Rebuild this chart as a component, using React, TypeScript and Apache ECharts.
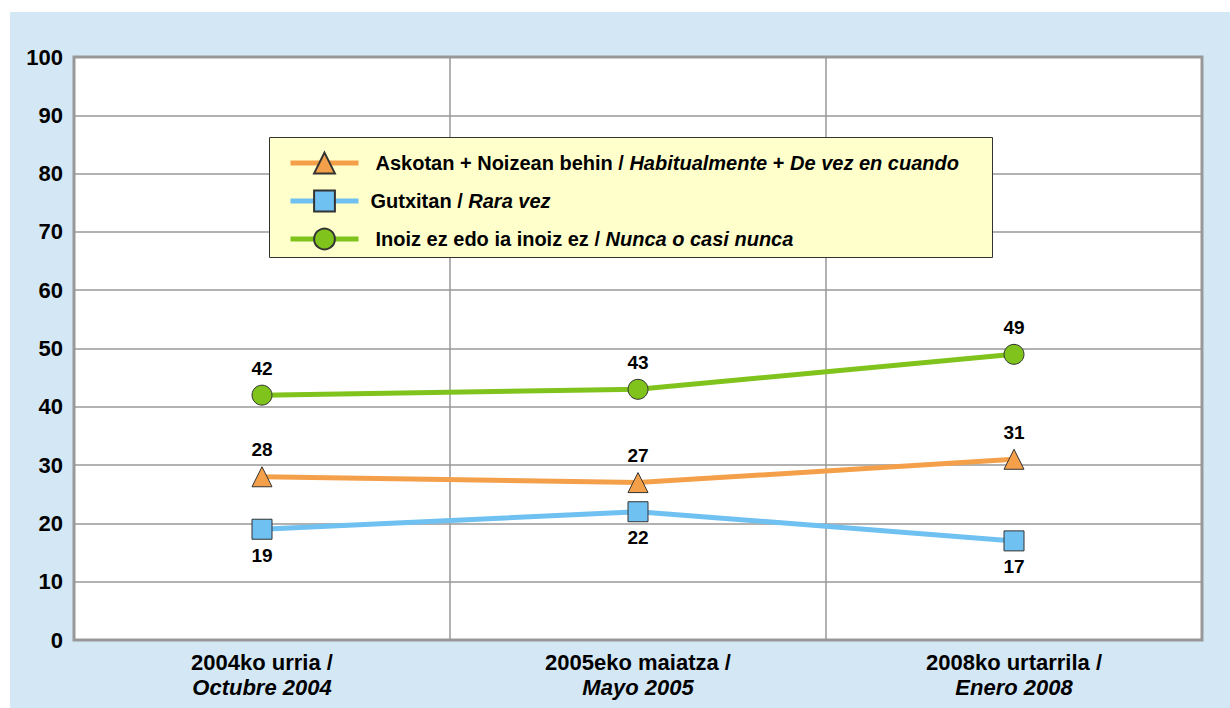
import React, { useEffect, useRef } from "react";
import * as echarts from "echarts";

const catEu = ["2004ko urria /", "2005eko maiatza /", "2008ko urtarrila /"];
const catEs = ["Octubre 2004", "Mayo 2005", "Enero 2008"];

const seriesNames = [
  ["Askotan + Noizean behin / ", "Habitualmente", " + ", "De vez en cuando"],
  ["Gutxitan / ", "Rara vez"],
  ["Inoiz ez edo ia inoiz ez / ", "Nunca o casi nunca"],
];
const nameKeys = ["s1", "s2", "s3"];

const often = [28, 27, 31];
const rarely = [19, 22, 17];
const never = [42, 43, 49];

const yTicks = { min: 0, max: 100, interval: 10 };

const FONT = "'Liberation Sans', Arial, sans-serif";
const LF = 20;

export default function App() {
  const ref = useRef<HTMLDivElement>(null);
  useEffect(() => {
    if (!ref.current) return;
    const chart = echarts.init(ref.current, undefined, { renderer: "svg" });
    const labelStyle = { fontFamily: FONT, fontWeight: "bold", fontSize: 19, color: "#000" };
    const mkSeries = (key: string, data: number[], color: string, symbol: string, pos: string, dist: number) => ({
      name: key,
      type: "line",
      data,
      symbol,
      symbolSize: 20,
      lineStyle: { color, width: 5 },
      itemStyle: { color, borderColor: "#333", borderWidth: 1 },
      label: { show: true, position: pos, distance: dist, ...labelStyle },
      z: 3,
    });
    const fmtName = (n: string) => {
      const idx = nameKeys.indexOf(n);
      const parts = seriesNames[idx];
      const pad = idx === 1 ? "{p2| }" : "{p| }";
      return pad + parts.map((t, i) => `{${i % 2 === 0 ? "a" : "b"}|${t}}`).join("");
    };
    chart.setOption({
      animation: false,
      textStyle: { fontFamily: FONT },
      grid: {
        left: 74,
        top: 57,
        width: 1128,
        height: 583,
        show: true,
        backgroundColor: "#ffffff",
        borderColor: "#999999",
        borderWidth: 3,
        containLabel: false,
      },
      graphic: [
        {
          type: "rect",
          z: 1,
          shape: { x: 269.5, y: 137.5, width: 723, height: 120 },
          style: { fill: "#ffffcc", stroke: "#333333", lineWidth: 1 },
        },
      ],
      legend: {
        orient: "vertical",
        left: 288,
        top: 150,
        padding: 0,
        itemWidth: 68,
        itemHeight: 26,
        itemGap: 12,
        z: 5,
        data: nameKeys,
        formatter: fmtName,
        lineStyle: { width: 5 },
        textStyle: {
          fontFamily: FONT,
          fontSize: LF,
          fontWeight: "bold",
          color: "#000",
          lineHeight: 26,
          rich: {
            p: { width: 12, fontSize: LF, lineHeight: 26 },
            p2: { width: 7, fontSize: LF, lineHeight: 26 },
            a: { fontFamily: FONT, fontSize: LF, fontWeight: "bold", color: "#000", lineHeight: 26 },
            b: { fontFamily: FONT, fontSize: LF, fontWeight: "bold", fontStyle: "italic", color: "#000", lineHeight: 26 },
          },
        },
      },
      xAxis: {
        type: "category",
        data: catEu,
        boundaryGap: true,
        axisLine: { show: false },
        axisTick: { show: false },
        splitLine: { show: true, lineStyle: { color: "#999999", width: 1.5 } },
        axisLabel: {
          margin: 10,
          formatter: (_v: string, i: number) => `{a|${catEu[i]}}\n{b|${catEs[i]}}`,
          rich: {
            a: { fontFamily: FONT, fontSize: 22, fontWeight: "bold", color: "#000", lineHeight: 25 },
            b: { fontFamily: FONT, fontSize: 22, fontWeight: "bold", fontStyle: "italic", color: "#000", lineHeight: 25 },
          },
        },
      },
      yAxis: {
        type: "value",
        min: yTicks.min,
        max: yTicks.max,
        interval: yTicks.interval,
        axisLine: { show: false },
        axisTick: { show: false },
        splitLine: { show: true, lineStyle: { color: "#999999", width: 1.5 } },
        axisLabel: { margin: 11, fontFamily: FONT, fontSize: 22, fontWeight: "bold", color: "#000" },
      },
      series: [
        mkSeries("s1", often, "#f4a04a", "triangle", "top", 7),
        mkSeries("s2", rarely, "#6ec1f0", "rect", "bottom", 6),
        mkSeries("s3", never, "#7fc31c", "circle", "top", 7),
      ],
    });
    return () => chart.dispose();
  }, []);
  return (
    <div style={{ position: "fixed", left: 0, top: 0, width: 1230, height: 708, background: "#ffffff" }}>
      <div style={{ position: "absolute", left: 10, top: 12, right: 0, bottom: 0, background: "#d3e7f5" }} />
      <div ref={ref} style={{ position: "absolute", left: 0, top: 0, width: 1230, height: 708 }} />
    </div>
  );
}
